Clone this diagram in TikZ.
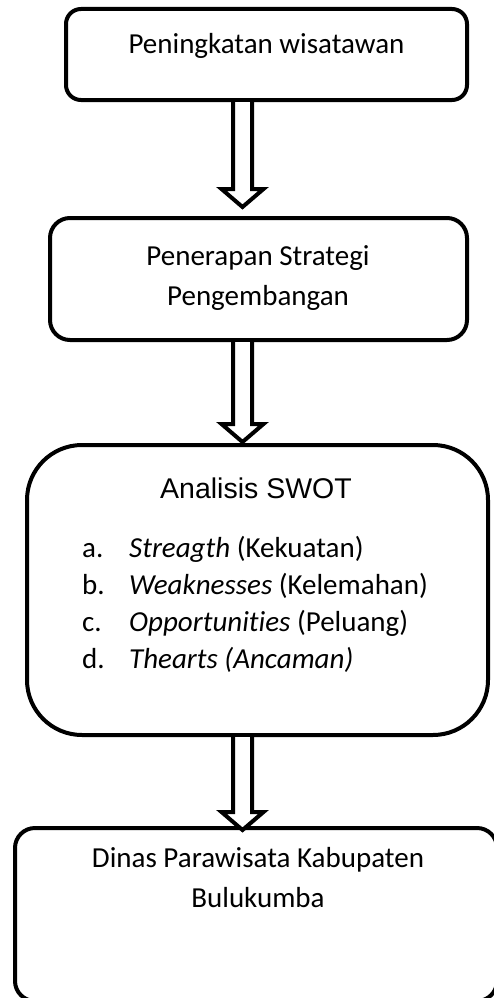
\documentclass[tikz,border=0pt]{standalone}
\usepackage{fontspec}
\setmainfont{Carlito}[Ligatures=NoCommon]
\newfontfamily\titlefont{Liberation Sans}
\usetikzlibrary{calc}

\newcommand{\blockarrow}[2]{%
  \draw[hollow] let \p1=(#1), \p2=(#2) in
    (\x2-9.5pt,\y1) -- (\x2-9.5pt,\y2+18pt) -- (\x2-21pt,\y2+18pt) -- (\x2,\y2)
    -- (\x2+21pt,\y2+18pt) -- (\x2+9.5pt,\y2+18pt) -- (\x2+9.5pt,\y1);}

\begin{document}
\begin{tikzpicture}[
    x=1pt, y=-1pt,
    box/.style={rectangle, draw, line width=4pt, rounded corners=15pt, inner sep=0pt},
    hollow/.style={line width=4pt, line join=miter, fill=white},
    txt/.style={font=\fontsize{29}{40}\selectfont, align=center, inner sep=0pt},
    title/.style={font=\titlefont\fontsize{28.5}{34}\selectfont, inner sep=0pt}
]
\useasboundingbox (0,0) rectangle (494,998);

% Boxes
\node[box, minimum width=401pt, minimum height=91pt] (box1) at (266.5,54.5) {};
\node[box, minimum width=417pt, minimum height=122pt, rounded corners=20pt] (box2) at (258.5,279) {};
\node[box, minimum width=461pt, minimum height=290pt, rounded corners=55pt] (box3) at (257.5,590) {};
\node[box, minimum width=482pt, minimum height=173pt, rounded corners=20pt] (box4) at (256,914.5) {};

% Texts (base = last line)
\node[txt, anchor=base] (peningkatan) at (266.5,53) {Peningkatan wisatawan};
\node[txt, anchor=base] (penerapan) at (258,305) {Penerapan Strategi\\Pengembangan};
\node[title, anchor=base] (swot) at (256,498) {Analisis SWOT};
\node[anchor=base west, inner sep=0pt] (faktor) at (82,557) {\fontsize{29}{37}\selectfont
  \begin{tabular}[t]{@{}p{47pt}@{}l@{}}
    a. & \textit{Streagth} (Kekuatan)\\
    b. & \textit{Weaknesses} (Kelemahan)\\
    c. & \textit{Opportunities} (Peluang)\\
    d. & \textit{Thearts (Ancaman)}
  \end{tabular}};
\node[txt, anchor=base] (dinas) at (258,907) {Dinas Parawisata Kabupaten\\Bulukumba};

% Arrow tips
\coordinate (tip1) at (242.5,207);
\coordinate (tip2) at (242.5,442);
\coordinate (tip3) at (242.5,830);

% Arrows
\blockarrow{box1.south}{tip1}
\blockarrow{box2.south}{tip2}
\blockarrow{box3.south}{tip3}

\end{tikzpicture}
\end{document}
